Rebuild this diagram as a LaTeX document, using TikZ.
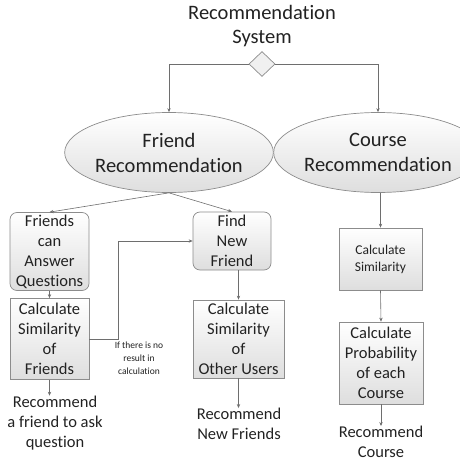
\documentclass[tikz,border=0pt]{standalone}
\usepackage{fontspec}
\setmainfont{Carlito}[Ligatures=NoCommon]
\usetikzlibrary{shapes.geometric,arrows.meta}
\definecolor{edge}{HTML}{8C8C8C}
\definecolor{wire}{HTML}{6E6E6E}
\definecolor{ink}{HTML}{222222}
\tikzset{
  base/.style={draw=edge, line width=0.7pt, top color=white, bottom color=black!13, text=ink, align=center, inner sep=0pt},
  card/.style={base, rectangle, minimum width=#1},
  roundcard/.style={base, rectangle, rounded corners=7pt},
  oval/.style={base, ellipse, minimum width=182pt, minimum height=80pt, font=\fontsize{20.5}{25}\selectfont},
  label/.style={text=ink, align=center, inner sep=0pt},
  bigtext/.style={font=\fontsize{16.5}{20}\selectfont},
  flow/.style={draw=wire, line width=0.6pt, -{Stealth[length=4pt,width=3.4pt]}},
  plain/.style={draw=wire, line width=0.6pt}
}
\begin{document}
\begin{tikzpicture}[x=1pt,y=-1pt]
\useasboundingbox (0,0) rectangle (460,463);

% title and branching point
\node[label, font=\fontsize{20.5}{24}\selectfont] (title) at (262,26) {Recommendation\\System};
\node[diamond, draw=edge, line width=0.7pt, fill=black!6, minimum width=26pt, minimum height=25pt, inner sep=0pt] (split) at (262,64) {};

% the two recommenders
\node[oval] (friend) at (169,152.5) {Friend\\Recommendation};
\node[oval] (course) at (378,152.5) {Course\\Recommendation};

% friend branch
\node[roundcard, bigtext, minimum width=79pt, minimum height=78pt] (answer) at (49.5,251.5) {Friends\\can\\Answer\\Questions};
\node[card=79pt, bigtext, minimum height=81pt] (simfr) at (49.5,339) {Calculate\\Similarity\\of\\Friends};
\node[roundcard, bigtext, minimum width=78pt, minimum height=58pt] (findnew) at (232,241) {Find\\New\\Friend};
\node[card=91pt, bigtext, minimum height=78pt] (simusr) at (238.5,339) {Calculate\\Similarity\\of\\Other Users};
\node[label, bigtext] (askfr) at (55,423) {Recommend\\a friend to ask\\question};
\node[label, bigtext] (newfr) at (239,424) {Recommend\\New Friends};
\node[label, font=\fontsize{9.5}{13}\selectfont] (note) at (139,358) {If there is no\\result in\\calculation};

% course branch
\node[card=83pt, font=\fontsize{13.5}{17}\selectfont, minimum height=62pt] (simc) at (380.5,259) {Calculate\\Similarity};
\node[card=84pt, bigtext, minimum height=82pt] (prob) at (381,363) {Calculate\\Probability\\of each\\Course};
\node[label, bigtext] (reccourse) at (381,442) {Recommend\\Course};

% connectors
\draw[flow] (split.west) -| (friend.north);
\draw[flow] (split.east) -| (course.north);
\draw[flow] (friend.south) -- (answer.north);
\draw[flow] (friend.south) -- (findnew.north);
\draw[flow] (answer.south) -- (simfr.north);
\draw[flow] (simfr.east) -- ++(29,0) |- (findnew.west);
\draw[flow] (simfr.south) -- (simfr.south |- askfr.north);
\draw[flow] (simusr.north |- findnew.south) -- (simusr.north);
\draw[flow] (simusr.south) -- (simusr.south |- newfr.north);
\draw[flow] (course.south -| simc.north) -- (simc.north);
\draw[flow] (simc.south) -- (prob.north);
\draw[flow] (prob.south) -- (prob.south |- reccourse.north);
\end{tikzpicture}
\end{document}
